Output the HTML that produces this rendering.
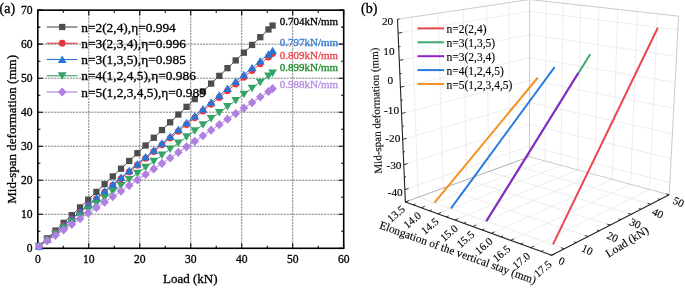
<!DOCTYPE html>
<html><head><meta charset="utf-8"><style>html,body{margin:0;padding:0;background:#fff;}svg{display:block;will-change:transform}text{stroke:#000;stroke-width:0.3px}.pb text{stroke-width:0.12px}</style></head>
<body><svg width="685" height="288" viewBox="0 0 685 288">
<rect width="685" height="288" fill="#fff"/>
<g stroke="#707070" stroke-width="0.9" stroke-dasharray="2.1 1.0"><line x1="88.78" y1="11.15" x2="88.78" y2="247.3"/><line x1="139.77" y1="11.15" x2="139.77" y2="247.3"/><line x1="190.75" y1="11.15" x2="190.75" y2="247.3"/><line x1="241.73" y1="11.15" x2="241.73" y2="247.3"/><line x1="292.72" y1="11.15" x2="292.72" y2="247.3"/><line x1="38.8" y1="214.28" x2="342.7" y2="214.28"/><line x1="38.8" y1="180.26" x2="342.7" y2="180.26"/><line x1="38.8" y1="146.24" x2="342.7" y2="146.24"/><line x1="38.8" y1="112.21" x2="342.7" y2="112.21"/><line x1="38.8" y1="78.19" x2="342.7" y2="78.19"/><line x1="38.8" y1="44.17" x2="342.7" y2="44.17"/></g>
<path d="M37.8 248.3v-5M37.8 10.15v5M63.29 248.3v-2.6M63.29 10.15v2.6M88.78 248.3v-5M88.78 10.15v5M114.27 248.3v-2.6M114.27 10.15v2.6M139.77 248.3v-5M139.77 10.15v5M165.26 248.3v-2.6M165.26 10.15v2.6M190.75 248.3v-5M190.75 10.15v5M216.24 248.3v-2.6M216.24 10.15v2.6M241.73 248.3v-5M241.73 10.15v5M267.22 248.3v-2.6M267.22 10.15v2.6M292.72 248.3v-5M292.72 10.15v5M318.21 248.3v-2.6M318.21 10.15v2.6M343.7 248.3v-5M343.7 10.15v5M37.8 248.3h5M343.7 248.3h-5M37.8 231.29h2.6M343.7 231.29h-2.6M37.8 214.28h5M343.7 214.28h-5M37.8 197.27h2.6M343.7 197.27h-2.6M37.8 180.26h5M343.7 180.26h-5M37.8 163.25h2.6M343.7 163.25h-2.6M37.8 146.24h5M343.7 146.24h-5M37.8 129.23h2.6M343.7 129.23h-2.6M37.8 112.21h5M343.7 112.21h-5M37.8 95.2h2.6M343.7 95.2h-2.6M37.8 78.19h5M343.7 78.19h-5M37.8 61.18h2.6M343.7 61.18h-2.6M37.8 44.17h5M343.7 44.17h-5M37.8 27.16h2.6M343.7 27.16h-2.6M37.8 10.15h5M343.7 10.15h-5" stroke="#000" stroke-width="1.1" fill="none"/>
<rect x="37.8" y="10.15" width="305.9" height="238.15" fill="none" stroke="#000" stroke-width="1.6"/>
<g style="font-family:'Liberation Serif',serif;font-size:11.6px" fill="#000"><text x="37.8" y="262.8" text-anchor="middle">0</text><text x="88.78" y="262.8" text-anchor="middle">10</text><text x="139.77" y="262.8" text-anchor="middle">20</text><text x="190.75" y="262.8" text-anchor="middle">30</text><text x="241.73" y="262.8" text-anchor="middle">40</text><text x="292.72" y="262.8" text-anchor="middle">50</text><text x="343.7" y="262.8" text-anchor="middle">60</text><text x="32.6" y="252.1" text-anchor="end">0</text><text x="32.6" y="218.08" text-anchor="end">10</text><text x="32.6" y="184.06" text-anchor="end">20</text><text x="32.6" y="150.04" text-anchor="end">30</text><text x="32.6" y="116.01" text-anchor="end">40</text><text x="32.6" y="81.99" text-anchor="end">50</text><text x="32.6" y="47.97" text-anchor="end">60</text><text x="32.6" y="13.95" text-anchor="end">70</text></g>
<text x="190.3" y="282.8" text-anchor="middle" style="font-family:'Liberation Serif',serif;font-size:13px">Load (kN)</text>
<text transform="translate(15.6 129.4) rotate(-90)" text-anchor="middle" style="font-family:'Liberation Serif',serif;font-size:13px">Mid-span deformation (mm)</text>
<text x="-0.4" y="13" style="font-family:'Liberation Serif',serif;font-size:14px">(a)</text>
<path d="M39.07 246.08L47.27 238.34L55.46 230.6L63.65 222.87L71.85 215.13L80.04 207.4L88.23 199.66L96.43 191.92L104.62 184.19L112.81 176.45L121 168.71L129.2 160.98L137.39 153.24L145.58 145.51L153.78 137.77L161.97 130.03L170.16 122.3L178.36 114.56L186.55 106.83L194.74 99.09L202.94 91.35L211.13 83.62L219.32 75.88L227.51 68.14L235.71 60.41L243.9 52.67L252.09 44.94L260.29 37.2L268.48 29.46L272.58 25.59" stroke="#4d4d4d" stroke-width="1" fill="none"/>
<rect x="35.92" y="242.93" width="6.3" height="6.3" fill="#4d4d4d"/><rect x="44.12" y="235.19" width="6.3" height="6.3" fill="#4d4d4d"/><rect x="52.31" y="227.45" width="6.3" height="6.3" fill="#4d4d4d"/><rect x="60.5" y="219.72" width="6.3" height="6.3" fill="#4d4d4d"/><rect x="68.7" y="211.98" width="6.3" height="6.3" fill="#4d4d4d"/><rect x="76.89" y="204.25" width="6.3" height="6.3" fill="#4d4d4d"/><rect x="85.08" y="196.51" width="6.3" height="6.3" fill="#4d4d4d"/><rect x="93.28" y="188.77" width="6.3" height="6.3" fill="#4d4d4d"/><rect x="101.47" y="181.04" width="6.3" height="6.3" fill="#4d4d4d"/><rect x="109.66" y="173.3" width="6.3" height="6.3" fill="#4d4d4d"/><rect x="117.85" y="165.56" width="6.3" height="6.3" fill="#4d4d4d"/><rect x="126.05" y="157.83" width="6.3" height="6.3" fill="#4d4d4d"/><rect x="134.24" y="150.09" width="6.3" height="6.3" fill="#4d4d4d"/><rect x="142.43" y="142.36" width="6.3" height="6.3" fill="#4d4d4d"/><rect x="150.63" y="134.62" width="6.3" height="6.3" fill="#4d4d4d"/><rect x="158.82" y="126.88" width="6.3" height="6.3" fill="#4d4d4d"/><rect x="167.01" y="119.15" width="6.3" height="6.3" fill="#4d4d4d"/><rect x="175.21" y="111.41" width="6.3" height="6.3" fill="#4d4d4d"/><rect x="183.4" y="103.68" width="6.3" height="6.3" fill="#4d4d4d"/><rect x="191.59" y="95.94" width="6.3" height="6.3" fill="#4d4d4d"/><rect x="199.79" y="88.2" width="6.3" height="6.3" fill="#4d4d4d"/><rect x="207.98" y="80.47" width="6.3" height="6.3" fill="#4d4d4d"/><rect x="216.17" y="72.73" width="6.3" height="6.3" fill="#4d4d4d"/><rect x="224.36" y="64.99" width="6.3" height="6.3" fill="#4d4d4d"/><rect x="232.56" y="57.26" width="6.3" height="6.3" fill="#4d4d4d"/><rect x="240.75" y="49.52" width="6.3" height="6.3" fill="#4d4d4d"/><rect x="248.94" y="41.79" width="6.3" height="6.3" fill="#4d4d4d"/><rect x="257.14" y="34.05" width="6.3" height="6.3" fill="#4d4d4d"/><rect x="265.33" y="26.31" width="6.3" height="6.3" fill="#4d4d4d"/><rect x="269.43" y="22.44" width="6.3" height="6.3" fill="#4d4d4d"/>
<path d="M39.07 246.23L47.27 239.47L55.46 232.71L63.65 225.95L71.85 219.2L80.04 212.44L88.23 205.68L96.43 198.92L104.62 192.16L112.81 185.41L121 178.65L129.2 171.89L137.39 165.13L145.58 158.37L153.78 151.62L161.97 144.86L170.16 138.1L178.36 131.34L186.55 124.58L194.74 117.83L202.94 111.07L211.13 104.31L219.32 97.55L227.51 90.79L235.71 84.04L243.9 77.28L252.09 70.52L260.29 63.76L268.48 57L272.58 53.62" stroke="#e8363c" stroke-width="1" fill="none"/>
<circle cx="39.07" cy="246.23" r="3.4" fill="#e8363c"/><circle cx="47.27" cy="239.47" r="3.4" fill="#e8363c"/><circle cx="55.46" cy="232.71" r="3.4" fill="#e8363c"/><circle cx="63.65" cy="225.95" r="3.4" fill="#e8363c"/><circle cx="71.85" cy="219.2" r="3.4" fill="#e8363c"/><circle cx="80.04" cy="212.44" r="3.4" fill="#e8363c"/><circle cx="88.23" cy="205.68" r="3.4" fill="#e8363c"/><circle cx="96.43" cy="198.92" r="3.4" fill="#e8363c"/><circle cx="104.62" cy="192.16" r="3.4" fill="#e8363c"/><circle cx="112.81" cy="185.41" r="3.4" fill="#e8363c"/><circle cx="121" cy="178.65" r="3.4" fill="#e8363c"/><circle cx="129.2" cy="171.89" r="3.4" fill="#e8363c"/><circle cx="137.39" cy="165.13" r="3.4" fill="#e8363c"/><circle cx="145.58" cy="158.37" r="3.4" fill="#e8363c"/><circle cx="153.78" cy="151.62" r="3.4" fill="#e8363c"/><circle cx="161.97" cy="144.86" r="3.4" fill="#e8363c"/><circle cx="170.16" cy="138.1" r="3.4" fill="#e8363c"/><circle cx="178.36" cy="131.34" r="3.4" fill="#e8363c"/><circle cx="186.55" cy="124.58" r="3.4" fill="#e8363c"/><circle cx="194.74" cy="117.83" r="3.4" fill="#e8363c"/><circle cx="202.94" cy="111.07" r="3.4" fill="#e8363c"/><circle cx="211.13" cy="104.31" r="3.4" fill="#e8363c"/><circle cx="219.32" cy="97.55" r="3.4" fill="#e8363c"/><circle cx="227.51" cy="90.79" r="3.4" fill="#e8363c"/><circle cx="235.71" cy="84.04" r="3.4" fill="#e8363c"/><circle cx="243.9" cy="77.28" r="3.4" fill="#e8363c"/><circle cx="252.09" cy="70.52" r="3.4" fill="#e8363c"/><circle cx="260.29" cy="63.76" r="3.4" fill="#e8363c"/><circle cx="268.48" cy="57" r="3.4" fill="#e8363c"/><circle cx="272.58" cy="53.62" r="3.4" fill="#e8363c"/>
<path d="M39.07 246.21L47.27 239.35L55.46 232.49L63.65 225.63L71.85 218.77L80.04 211.91L88.23 205.05L96.43 198.19L104.62 191.33L112.81 184.47L121 177.61L129.2 170.75L137.39 163.89L145.58 157.04L153.78 150.18L161.97 143.32L170.16 136.46L178.36 129.6L186.55 122.74L194.74 115.88L202.94 109.02L211.13 102.16L219.32 95.3L227.51 88.44L235.71 81.58L243.9 74.72L252.09 67.86L260.29 61L268.48 54.14L272.58 50.71" stroke="#2a74d6" stroke-width="1" fill="none"/>
<path d="M39.07 242.21L43.47 249.71L34.67 249.71Z" fill="#2a74d6"/><path d="M47.27 235.35L51.67 242.85L42.87 242.85Z" fill="#2a74d6"/><path d="M55.46 228.49L59.86 235.99L51.06 235.99Z" fill="#2a74d6"/><path d="M63.65 221.63L68.05 229.13L59.25 229.13Z" fill="#2a74d6"/><path d="M71.85 214.77L76.25 222.27L67.45 222.27Z" fill="#2a74d6"/><path d="M80.04 207.91L84.44 215.41L75.64 215.41Z" fill="#2a74d6"/><path d="M88.23 201.05L92.63 208.55L83.83 208.55Z" fill="#2a74d6"/><path d="M96.43 194.19L100.83 201.69L92.03 201.69Z" fill="#2a74d6"/><path d="M104.62 187.33L109.02 194.83L100.22 194.83Z" fill="#2a74d6"/><path d="M112.81 180.47L117.21 187.97L108.41 187.97Z" fill="#2a74d6"/><path d="M121 173.61L125.4 181.11L116.6 181.11Z" fill="#2a74d6"/><path d="M129.2 166.75L133.6 174.25L124.8 174.25Z" fill="#2a74d6"/><path d="M137.39 159.89L141.79 167.39L132.99 167.39Z" fill="#2a74d6"/><path d="M145.58 153.04L149.98 160.54L141.18 160.54Z" fill="#2a74d6"/><path d="M153.78 146.18L158.18 153.68L149.38 153.68Z" fill="#2a74d6"/><path d="M161.97 139.32L166.37 146.82L157.57 146.82Z" fill="#2a74d6"/><path d="M170.16 132.46L174.56 139.96L165.76 139.96Z" fill="#2a74d6"/><path d="M178.36 125.6L182.76 133.1L173.96 133.1Z" fill="#2a74d6"/><path d="M186.55 118.74L190.95 126.24L182.15 126.24Z" fill="#2a74d6"/><path d="M194.74 111.88L199.14 119.38L190.34 119.38Z" fill="#2a74d6"/><path d="M202.94 105.02L207.34 112.52L198.54 112.52Z" fill="#2a74d6"/><path d="M211.13 98.16L215.53 105.66L206.73 105.66Z" fill="#2a74d6"/><path d="M219.32 91.3L223.72 98.8L214.92 98.8Z" fill="#2a74d6"/><path d="M227.51 84.44L231.91 91.94L223.11 91.94Z" fill="#2a74d6"/><path d="M235.71 77.58L240.11 85.08L231.31 85.08Z" fill="#2a74d6"/><path d="M243.9 70.72L248.3 78.22L239.5 78.22Z" fill="#2a74d6"/><path d="M252.09 63.86L256.49 71.36L247.69 71.36Z" fill="#2a74d6"/><path d="M260.29 57L264.69 64.5L255.89 64.5Z" fill="#2a74d6"/><path d="M268.48 50.14L272.88 57.64L264.08 57.64Z" fill="#2a74d6"/><path d="M272.58 46.71L276.98 54.21L268.18 54.21Z" fill="#2a74d6"/>
<path d="M39.07 246.33L47.27 240.25L55.46 234.17L63.65 228.09L71.85 222.01L80.04 215.93L88.23 209.84L96.43 203.76L104.62 197.68L112.81 191.6L121 185.52L129.2 179.44L137.39 173.36L145.58 167.27L153.78 161.19L161.97 155.11L170.16 149.03L178.36 142.95L186.55 136.87L194.74 130.79L202.94 124.7L211.13 118.62L219.32 112.54L227.51 106.46L235.71 100.38L243.9 94.3L252.09 88.21L260.29 82.13L268.48 76.05L272.58 73.01" stroke="#35a266" stroke-width="1" fill="none"/>
<path d="M39.07 250.33L43.47 242.83L34.67 242.83Z" fill="#35a266"/><path d="M47.27 244.25L51.67 236.75L42.87 236.75Z" fill="#35a266"/><path d="M55.46 238.17L59.86 230.67L51.06 230.67Z" fill="#35a266"/><path d="M63.65 232.09L68.05 224.59L59.25 224.59Z" fill="#35a266"/><path d="M71.85 226.01L76.25 218.51L67.45 218.51Z" fill="#35a266"/><path d="M80.04 219.93L84.44 212.43L75.64 212.43Z" fill="#35a266"/><path d="M88.23 213.84L92.63 206.34L83.83 206.34Z" fill="#35a266"/><path d="M96.43 207.76L100.83 200.26L92.03 200.26Z" fill="#35a266"/><path d="M104.62 201.68L109.02 194.18L100.22 194.18Z" fill="#35a266"/><path d="M112.81 195.6L117.21 188.1L108.41 188.1Z" fill="#35a266"/><path d="M121 189.52L125.4 182.02L116.6 182.02Z" fill="#35a266"/><path d="M129.2 183.44L133.6 175.94L124.8 175.94Z" fill="#35a266"/><path d="M137.39 177.36L141.79 169.86L132.99 169.86Z" fill="#35a266"/><path d="M145.58 171.27L149.98 163.77L141.18 163.77Z" fill="#35a266"/><path d="M153.78 165.19L158.18 157.69L149.38 157.69Z" fill="#35a266"/><path d="M161.97 159.11L166.37 151.61L157.57 151.61Z" fill="#35a266"/><path d="M170.16 153.03L174.56 145.53L165.76 145.53Z" fill="#35a266"/><path d="M178.36 146.95L182.76 139.45L173.96 139.45Z" fill="#35a266"/><path d="M186.55 140.87L190.95 133.37L182.15 133.37Z" fill="#35a266"/><path d="M194.74 134.79L199.14 127.29L190.34 127.29Z" fill="#35a266"/><path d="M202.94 128.7L207.34 121.2L198.54 121.2Z" fill="#35a266"/><path d="M211.13 122.62L215.53 115.12L206.73 115.12Z" fill="#35a266"/><path d="M219.32 116.54L223.72 109.04L214.92 109.04Z" fill="#35a266"/><path d="M227.51 110.46L231.91 102.96L223.11 102.96Z" fill="#35a266"/><path d="M235.71 104.38L240.11 96.88L231.31 96.88Z" fill="#35a266"/><path d="M243.9 98.3L248.3 90.8L239.5 90.8Z" fill="#35a266"/><path d="M252.09 92.21L256.49 84.71L247.69 84.71Z" fill="#35a266"/><path d="M260.29 86.13L264.69 78.63L255.89 78.63Z" fill="#35a266"/><path d="M268.48 80.05L272.88 72.55L264.08 72.55Z" fill="#35a266"/><path d="M272.58 77.01L276.98 69.51L268.18 69.51Z" fill="#35a266"/>
<path d="M39.07 246.42L47.27 240.88L55.46 235.35L63.65 229.82L71.85 224.28L80.04 218.75L88.23 213.22L96.43 207.68L104.62 202.15L112.81 196.62L121 191.08L129.2 185.55L137.39 180.01L145.58 174.48L153.78 168.95L161.97 163.41L170.16 157.88L178.36 152.35L186.55 146.81L194.74 141.28L202.94 135.75L211.13 130.21L219.32 124.68L227.51 119.14L235.71 113.61L243.9 108.08L252.09 102.54L260.29 97.01L268.48 91.48L272.58 88.71" stroke="#b07fe2" stroke-width="1" fill="none"/>
<path d="M39.07 241.82L43.37 246.42L39.07 251.02L34.77 246.42Z" fill="#b07fe2"/><path d="M47.27 236.28L51.57 240.88L47.27 245.48L42.97 240.88Z" fill="#b07fe2"/><path d="M55.46 230.75L59.76 235.35L55.46 239.95L51.16 235.35Z" fill="#b07fe2"/><path d="M63.65 225.22L67.95 229.82L63.65 234.42L59.35 229.82Z" fill="#b07fe2"/><path d="M71.85 219.68L76.15 224.28L71.85 228.88L67.55 224.28Z" fill="#b07fe2"/><path d="M80.04 214.15L84.34 218.75L80.04 223.35L75.74 218.75Z" fill="#b07fe2"/><path d="M88.23 208.62L92.53 213.22L88.23 217.82L83.93 213.22Z" fill="#b07fe2"/><path d="M96.43 203.08L100.73 207.68L96.43 212.28L92.13 207.68Z" fill="#b07fe2"/><path d="M104.62 197.55L108.92 202.15L104.62 206.75L100.32 202.15Z" fill="#b07fe2"/><path d="M112.81 192.02L117.11 196.62L112.81 201.22L108.51 196.62Z" fill="#b07fe2"/><path d="M121 186.48L125.3 191.08L121 195.68L116.7 191.08Z" fill="#b07fe2"/><path d="M129.2 180.95L133.5 185.55L129.2 190.15L124.9 185.55Z" fill="#b07fe2"/><path d="M137.39 175.41L141.69 180.01L137.39 184.61L133.09 180.01Z" fill="#b07fe2"/><path d="M145.58 169.88L149.88 174.48L145.58 179.08L141.28 174.48Z" fill="#b07fe2"/><path d="M153.78 164.35L158.08 168.95L153.78 173.55L149.48 168.95Z" fill="#b07fe2"/><path d="M161.97 158.81L166.27 163.41L161.97 168.01L157.67 163.41Z" fill="#b07fe2"/><path d="M170.16 153.28L174.46 157.88L170.16 162.48L165.86 157.88Z" fill="#b07fe2"/><path d="M178.36 147.75L182.66 152.35L178.36 156.95L174.06 152.35Z" fill="#b07fe2"/><path d="M186.55 142.21L190.85 146.81L186.55 151.41L182.25 146.81Z" fill="#b07fe2"/><path d="M194.74 136.68L199.04 141.28L194.74 145.88L190.44 141.28Z" fill="#b07fe2"/><path d="M202.94 131.15L207.24 135.75L202.94 140.35L198.64 135.75Z" fill="#b07fe2"/><path d="M211.13 125.61L215.43 130.21L211.13 134.81L206.83 130.21Z" fill="#b07fe2"/><path d="M219.32 120.08L223.62 124.68L219.32 129.28L215.02 124.68Z" fill="#b07fe2"/><path d="M227.51 114.54L231.81 119.14L227.51 123.74L223.21 119.14Z" fill="#b07fe2"/><path d="M235.71 109.01L240.01 113.61L235.71 118.21L231.41 113.61Z" fill="#b07fe2"/><path d="M243.9 103.48L248.2 108.08L243.9 112.68L239.6 108.08Z" fill="#b07fe2"/><path d="M252.09 97.94L256.39 102.54L252.09 107.14L247.79 102.54Z" fill="#b07fe2"/><path d="M260.29 92.41L264.59 97.01L260.29 101.61L255.99 97.01Z" fill="#b07fe2"/><path d="M268.48 86.88L272.78 91.48L268.48 96.08L264.18 91.48Z" fill="#b07fe2"/><path d="M272.58 84.11L276.88 88.71L272.58 93.31L268.28 88.71Z" fill="#b07fe2"/>
<line x1="46.6" y1="27" x2="77.3" y2="27" stroke="#4d4d4d" stroke-width="1.1"/>
<rect x="59.05" y="23.85" width="6.3" height="6.3" fill="#4d4d4d"/>
<text x="81.2" y="31.6" style="font-family:'Liberation Serif',serif;font-size:13.4px">n=2(2,4),η=0.994</text>
<line x1="46.6" y1="43.25" x2="77.3" y2="43.25" stroke="#e8363c" stroke-width="1.1"/>
<circle cx="62.2" cy="43.25" r="3.4" fill="#e8363c"/>
<text x="81.2" y="47.85" style="font-family:'Liberation Serif',serif;font-size:13.4px">n=3(2,3,4),η=0.996</text>
<line x1="46.6" y1="59.5" x2="77.3" y2="59.5" stroke="#2a74d6" stroke-width="1.1"/>
<path d="M62.2 55.5L66.6 63L57.8 63Z" fill="#2a74d6"/>
<text x="81.2" y="64.1" style="font-family:'Liberation Serif',serif;font-size:13.4px">n=3(1,3,5),η=0.985</text>
<line x1="46.6" y1="75.75" x2="77.3" y2="75.75" stroke="#35a266" stroke-width="1.1"/>
<path d="M62.2 79.75L66.6 72.25L57.8 72.25Z" fill="#35a266"/>
<text x="81.2" y="80.35" style="font-family:'Liberation Serif',serif;font-size:13.4px">n=4(1,2,4,5),η=0.986</text>
<line x1="46.6" y1="92" x2="77.3" y2="92" stroke="#b07fe2" stroke-width="1.1"/>
<path d="M62.2 87.4L66.5 92L62.2 96.6L57.9 92Z" fill="#b07fe2"/>
<text x="81.2" y="96.6" style="font-family:'Liberation Serif',serif;font-size:13.4px">n=5(1,2,3,4,5),η=0.989</text>
<text x="279.8" y="24.6" fill="#000" style="font-family:'Liberation Serif',serif;font-size:11px;stroke:#000">0.704kN/mm</text>
<text x="279.8" y="45.9" fill="#3a7dd2" style="font-family:'Liberation Serif',serif;font-size:11px;stroke:#3a7dd2">0.797kN/mm</text>
<text x="279.8" y="58.7" fill="#e8454a" style="font-family:'Liberation Serif',serif;font-size:11px;stroke:#e8454a">0.809kN/mm</text>
<text x="279.8" y="70.5" fill="#1f8a2c" style="font-family:'Liberation Serif',serif;font-size:11px;stroke:#1f8a2c">0.899kN/mm</text>
<text x="279.8" y="87.6" fill="#b58be0" style="font-family:'Liberation Serif',serif;font-size:11px;stroke:#b58be0">0.988kN/mm</text>
<text x="361" y="13.2" style="font-family:'Liberation Serif',serif;font-size:14px">(b)</text>
<g class="pb">
<path d="M411.46 17.18L418.36 197.2M438.08 13.2L443.19 188.15M463.08 9.46L466.61 179.62M486.61 5.94L488.71 171.56M508.79 2.62L509.62 163.94M404.84 189.65L529.45 146.05M403.76 164.73L529.49 124.46M402.67 139.37L529.53 102.53M401.56 113.54L529.58 80.26M400.42 87.22L529.62 57.64M399.27 60.42L529.67 34.66M398.09 33.11L529.71 11.31M546.16 1.33L544.96 160.96M563.14 3.23L560.99 165.33M580.71 5.2L577.55 169.84M598.91 7.24L594.66 174.5M617.75 9.35L612.34 179.32M637.29 11.54L630.64 184.31M657.56 13.81L649.58 189.47M529.45 146.05L669.83 182.78M529.49 124.46L671.11 158.39M529.53 102.53L672.42 133.56M529.58 80.26L673.75 108.29M529.62 57.64L675.1 82.56M529.67 34.66L676.48 56.37M529.71 11.31L677.88 29.69M421.28 207.74L544.96 160.96M437.78 213.77L560.99 165.33M454.93 220.03L577.55 169.84M472.76 226.54L594.66 174.5M491.3 233.3L612.34 179.32M510.6 240.35L630.64 184.31M530.7 247.69L649.58 189.47M418.36 197.2L564.25 248.86M443.19 188.15L588.12 236.57M466.61 179.62L610.4 225.1M488.71 171.56L631.26 214.36M509.62 163.94L650.81 204.29" stroke="#e8e8e8" stroke-width="0.8" fill="none"/>
<path d="M397.49 19.26L529.73 -0.51M529.73 -0.51L678.59 16.16M529.73 -0.51L529.43 156.72M678.59 16.16L669.19 194.82M529.43 156.72L669.19 194.82" stroke="#bdbdbd" stroke-width="0.8" fill="none"/>
<path d="M405.37 201.94L529.43 156.72" stroke="#9a9a9a" stroke-width="0.8" fill="none"/>
<path d="M397.49 19.26L405.37 201.94M405.37 201.94L551.67 255.34M551.67 255.34L669.19 194.82" stroke="#222" stroke-width="1.1" fill="none"/>
<path d="M405.37 201.94L407.11 201.3M404.84 189.65L408.64 188.32M404.3 177.25L406.06 176.66M403.76 164.73L407.6 163.5M403.22 152.11L404.99 151.57M402.67 139.37L406.55 138.24M402.12 126.51L403.91 126.02M401.56 113.54L405.48 112.52M400.99 100.44L402.8 100M400.42 87.22L404.38 86.32M399.85 73.89L401.68 73.5M399.27 60.42L403.27 59.63M398.68 46.83L400.53 46.5M398.09 33.11L402.13 32.44M397.49 19.26L399.36 18.99M405.37 201.94L408.79 200.69M413.25 204.81L415.62 203.93M421.28 207.74L424.69 206.45M429.45 210.73L431.82 209.82M437.78 213.77L441.2 212.43M446.28 216.87L448.64 215.92M454.93 220.03L458.34 218.64M463.76 223.25L466.11 222.27M472.76 226.54L476.15 225.09M481.93 229.89L484.28 228.86M491.3 233.3L494.68 231.8M500.85 236.79L503.19 235.72M510.6 240.35L513.96 238.78M520.55 243.98L522.87 242.87M530.7 247.69L534.04 246.05M541.08 251.48L543.38 250.32M551.67 255.34L554.99 253.64M551.67 255.34L549.11 254.41M564.25 248.86L560.86 247.66M576.39 242.61L573.86 241.74M588.12 236.57L584.76 235.45M599.45 230.74L596.94 229.93M610.4 225.1L607.08 224.05M621 219.64L618.52 218.88M631.26 214.36L627.98 213.38M641.19 209.24L638.75 208.53M650.81 204.29L647.58 203.36M660.15 199.48L657.74 198.81M669.19 194.82L666.01 193.95" stroke="#222" stroke-width="0.9" fill="none"/>
<g style="font-family:'Liberation Serif',serif;font-size:11.3px" text-anchor="middle"><text x="387.59" y="25.1">20</text><text x="388.92" y="55.1">10</text><text x="390.23" y="84.4">0</text><text x="391.55" y="114">-10</text><text x="392.77" y="141.6">-20</text><text x="393.97" y="168.6">-30</text><text x="395.19" y="195.9">-40</text></g>
<g style="font-family:'Liberation Serif',serif;font-size:11px" text-anchor="middle"><text transform="translate(396 213.7) rotate(-40)" y="3.8">13.5</text><text transform="translate(412.2 219.9) rotate(-40)" y="3.8">14.0</text><text transform="translate(429.6 226) rotate(-40)" y="3.8">14.5</text><text transform="translate(448.8 233) rotate(-40)" y="3.8">15.0</text><text transform="translate(465.3 239.1) rotate(-40)" y="3.8">15.5</text><text transform="translate(483.6 245.8) rotate(-40)" y="3.8">16.0</text><text transform="translate(501.3 253.5) rotate(-40)" y="3.8">16.5</text><text transform="translate(521.2 260.5) rotate(-40)" y="3.8">17.0</text><text transform="translate(542.6 268.7) rotate(-40)" y="3.8">17.5</text></g>
<g style="font-family:'Liberation Serif',serif;font-size:11px" text-anchor="middle"><text transform="translate(561.8 261) rotate(25)" y="3.8">0</text><text transform="translate(587.3 249.7) rotate(25)" y="3.8">10</text><text transform="translate(612.6 236.8) rotate(25)" y="3.8">20</text><text transform="translate(635.4 223.4) rotate(25)" y="3.8">30</text><text transform="translate(657.8 213) rotate(25)" y="3.8">40</text><text transform="translate(678.5 201.8) rotate(25)" y="3.8">50</text></g>
<text transform="translate(378.7 228.2) rotate(19.7)" style="font-family:'Liberation Serif',serif;font-size:11.4px">Elongation of the vertical stay (mm)</text>
<text transform="translate(629 245) rotate(-32)" text-anchor="middle" style="font-family:'Liberation Serif',serif;font-size:11.5px">Load (kN)</text>
<text transform="translate(379.9 110.5) rotate(-91.9)" text-anchor="middle" style="font-family:'Liberation Serif',serif;font-size:11px">Mid-span deformation (mm)</text>
<path d="M553 244.4L657.8 27.8" stroke="#e8474d" stroke-width="2" stroke-linecap="butt" fill="none"/>
<path d="M486.3 221.3L590.2 54.2" stroke="#3caa6a" stroke-width="2" stroke-linecap="butt" fill="none"/>
<path d="M486.3 221.3L578.2 73" stroke="#9124cf" stroke-width="2" stroke-linecap="butt" fill="none"/>
<path d="M451 208.3L554.6 67.1" stroke="#2a7be0" stroke-width="2" stroke-linecap="butt" fill="none"/>
<path d="M434.5 202.6L537.9 77.5" stroke="#f39122" stroke-width="2" stroke-linecap="butt" fill="none"/>
<line x1="417.5" y1="28.4" x2="444.2" y2="28.4" stroke="#e8474d" stroke-width="2"/>
<text x="446.5" y="32.9" style="font-family:'Liberation Serif',serif;font-size:11.5px">n=2(2,4)</text>
<line x1="417.5" y1="42.3" x2="444.2" y2="42.3" stroke="#3caa6a" stroke-width="2"/>
<text x="446.5" y="46.8" style="font-family:'Liberation Serif',serif;font-size:11.5px">n=3(1,3,5)</text>
<line x1="417.5" y1="56.2" x2="444.2" y2="56.2" stroke="#9124cf" stroke-width="2"/>
<text x="446.5" y="60.7" style="font-family:'Liberation Serif',serif;font-size:11.5px">n=3(2,3,4)</text>
<line x1="417.5" y1="70.1" x2="444.2" y2="70.1" stroke="#2a7be0" stroke-width="2"/>
<text x="446.5" y="74.6" style="font-family:'Liberation Serif',serif;font-size:11.5px">n=4(1,2,4,5)</text>
<line x1="417.5" y1="84" x2="444.2" y2="84" stroke="#f39122" stroke-width="2"/>
<text x="446.5" y="88.5" style="font-family:'Liberation Serif',serif;font-size:11.5px">n=5(1,2,3,4,5)</text>
</g>
</svg></body></html>
